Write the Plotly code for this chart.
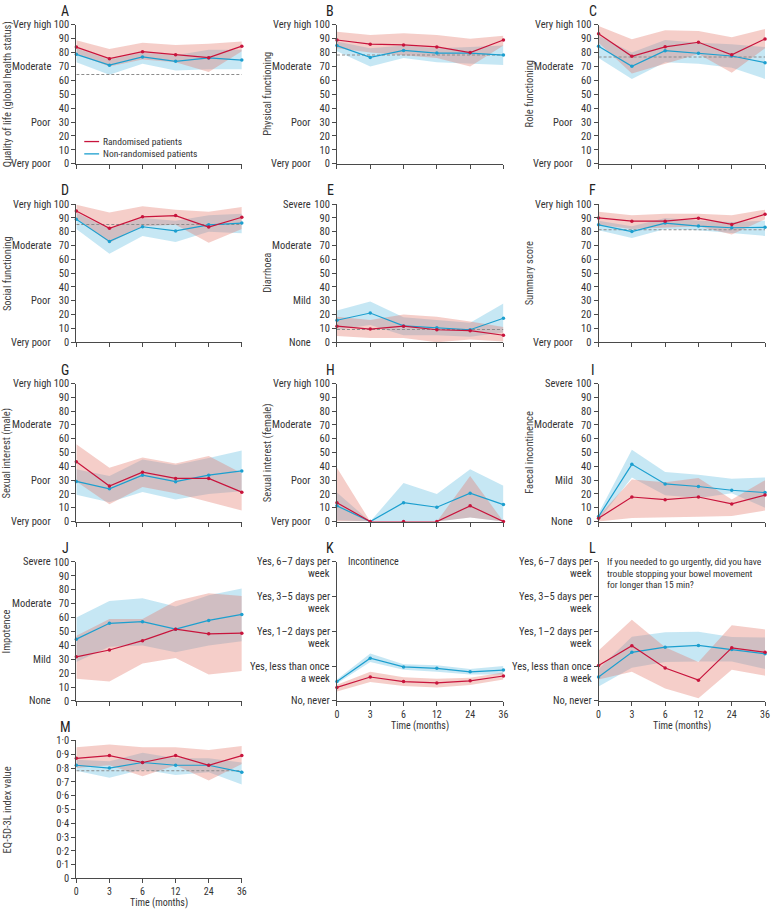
import plotly.graph_objects as go

W, H = 775, 916
months = ["0", "3", "6", "12", "24", "36"]
xi = list(range(len(months)))

# ---------------- data ----------------
A_rand = [83.9, 75.6, 80.6, 78.4, 76.3, 84.6]
A_rand_hi = [88.9, 82.5, 87.0, 85.5, 86.3, 88.0]
A_rand_lo = [79.0, 70.0, 75.0, 73.0, 66.0, 81.0]
A_non = [78.7, 70.9, 76.8, 73.7, 76.1, 74.6]
A_non_hi = [83.0, 75.0, 80.0, 78.0, 82.0, 82.0]
A_non_lo = [73.0, 64.0, 72.0, 67.0, 68.0, 68.0]
A_ref = 64.2

B_rand = [89.0, 86.0, 85.5, 84.0, 80.0, 89.0]
B_rand_hi = [95.0, 92.6, 93.8, 92.6, 90.0, 92.0]
B_rand_lo = [83.0, 80.0, 78.0, 76.0, 70.0, 85.0]
B_non = [85.0, 76.5, 81.5, 79.6, 79.6, 78.2]
B_non_hi = [88.0, 83.0, 85.0, 83.0, 84.0, 85.0]
B_non_lo = [81.0, 70.0, 76.0, 73.0, 72.0, 71.0]
B_ref = 78.2

C_rand = [93.6, 77.3, 84.1, 87.4, 78.4, 89.8]
C_rand_hi = [99.0, 89.5, 96.0, 95.5, 91.0, 97.0]
C_rand_lo = [87.0, 65.0, 72.0, 79.0, 65.5, 83.0]
C_non = [84.6, 70.1, 81.3, 79.4, 77.5, 72.7]
C_non_hi = [92.0, 80.0, 89.0, 87.0, 86.0, 84.0]
C_non_lo = [76.0, 61.0, 73.0, 72.0, 69.0, 61.0]
C_ref = 76.8

D_rand = [95.0, 82.5, 90.8, 91.7, 83.4, 90.5]
D_rand_hi = [99.5, 94.0, 98.5, 96.0, 94.5, 98.0]
D_rand_lo = [90.0, 72.0, 84.0, 85.0, 72.0, 82.0]
D_non = [89.0, 73.0, 83.6, 80.6, 85.0, 86.3]
D_non_hi = [94.0, 82.0, 90.0, 88.0, 92.0, 93.0]
D_non_lo = [82.0, 64.0, 77.0, 72.5, 80.0, 79.0]
D_ref = 85.3

E_rand = [11.6, 9.5, 11.6, 9.0, 8.3, 5.0]
E_rand_hi = [18.5, 16.0, 20.0, 18.5, 15.0, 11.0]
E_rand_lo = [4.5, 3.0, 3.0, 0.0, 2.0, 0.5]
E_non = [15.9, 21.1, 11.8, 10.4, 9.0, 17.3]
E_non_hi = [23.0, 29.5, 18.0, 16.0, 14.0, 28.0]
E_non_lo = [9.0, 12.5, 5.0, 5.0, 4.0, 7.0]
E_ref = 9.2

F_rand = [90.0, 87.7, 87.7, 89.8, 85.3, 92.7]
F_rand_hi = [94.5, 92.0, 93.0, 93.0, 92.0, 96.0]
F_rand_lo = [85.0, 82.0, 83.0, 84.0, 78.0, 89.0]
F_non = [85.0, 80.1, 86.3, 84.1, 82.9, 83.2]
F_non_hi = [88.0, 84.0, 90.0, 88.0, 87.0, 88.0]
F_non_lo = [81.0, 75.5, 82.0, 81.0, 79.0, 77.0]
F_ref = 81.5

G_rand = [43.4, 25.8, 35.8, 31.3, 31.3, 21.3]
G_rand_hi = [56.0, 39.0, 46.5, 42.0, 47.5, 35.0]
G_rand_lo = [29.0, 12.5, 25.0, 20.5, 14.0, 8.0]
G_non = [29.1, 23.7, 33.6, 28.9, 33.6, 36.7]
G_non_hi = [38.0, 33.0, 45.0, 41.0, 46.0, 51.5]
G_non_lo = [19.5, 14.0, 21.5, 16.0, 20.0, 22.0]

H_rand = [13.7, 0.0, 0.0, 0.0, 11.4, 0.0]
H_rand_hi = [39.0, 0.0, 0.0, 0.0, 33.0, 0.0]
H_rand_lo = [0.0, 0.0, 0.0, 0.0, 3.0, 0.0]
H_non = [11.4, 0.0, 13.7, 10.4, 20.6, 12.3]
H_non_hi = [21.0, 0.0, 28.0, 20.0, 38.0, 26.0]
H_non_lo = [1.0, 0.0, 0.0, 0.0, 3.0, 0.0]

I_rand = [2.4, 17.8, 15.9, 17.8, 12.8, 19.2]
I_rand_hi = [4.0, 30.5, 28.5, 31.5, 16.0, 30.0]
I_rand_lo = [0.0, 2.5, 3.0, 3.5, 4.0, 8.0]
I_non = [3.6, 41.5, 27.3, 25.4, 22.7, 21.0]
I_non_hi = [6.0, 52.0, 36.0, 34.0, 31.0, 32.0]
I_non_lo = [1.0, 32.0, 19.0, 17.0, 20.5, 10.0]

J_rand = [31.8, 36.7, 43.4, 51.7, 48.3, 48.8]
J_rand_hi = [47.0, 59.0, 59.0, 72.0, 77.5, 75.5]
J_rand_lo = [16.0, 14.0, 27.0, 31.0, 19.0, 21.5]
J_non = [44.5, 55.9, 57.1, 51.7, 58.0, 62.3]
J_non_hi = [60.0, 72.0, 74.0, 68.0, 76.0, 81.0]
J_non_lo = [28.0, 39.0, 40.0, 35.0, 40.0, 43.0]

K_rand = [0.39, 0.69, 0.56, 0.52, 0.58, 0.72]
K_rand_hi = [0.47, 0.84, 0.68, 0.64, 0.67, 0.82]
K_rand_lo = [0.27, 0.55, 0.43, 0.39, 0.46, 0.62]
K_non = [0.56, 1.23, 0.98, 0.94, 0.84, 0.89]
K_non_hi = [0.62, 1.37, 1.06, 1.03, 0.92, 1.01]
K_non_lo = [0.50, 1.12, 0.90, 0.84, 0.76, 0.76]

L_rand = [1.02, 1.59, 0.95, 0.60, 1.53, 1.40]
L_rand_hi = [1.45, 2.34, 1.55, 1.12, 2.18, 2.06]
L_rand_lo = [0.62, 0.84, 0.36, 0.08, 0.90, 0.73]
L_non = [0.69, 1.40, 1.55, 1.60, 1.48, 1.36]
L_non_hi = [0.92, 1.85, 1.98, 1.99, 1.84, 1.83]
L_non_lo = [0.42, 0.96, 1.12, 1.14, 1.14, 0.92]

M_rand = [0.87, 0.89, 0.84, 0.89, 0.82, 0.89]
M_rand_hi = [0.95, 0.97, 0.95, 0.95, 0.93, 0.96]
M_rand_lo = [0.80, 0.82, 0.74, 0.82, 0.71, 0.83]
M_non = [0.82, 0.80, 0.84, 0.82, 0.82, 0.77]
M_non_hi = [0.86, 0.85, 0.91, 0.87, 0.87, 0.84]
M_non_lo = [0.78, 0.73, 0.79, 0.75, 0.77, 0.68]
M_ref = 0.78

freq_ticks = [
    ["No, never"],
    ["Yes, less than once", "a week"],
    ["Yes, 1\u20132 days per", "week"],
    ["Yes, 3\u20135 days per", "week"],
    ["Yes, 6\u20137 days per", "week"],
]
m_ticks = [0.0, 0.1, 0.2, 0.3, 0.4, 0.5, 0.6, 0.7, 0.8, 0.9, 1.0]
m_ticktext = ["0", "0\u00b71", "0\u00b72", "0\u00b73", "0\u00b74", "0\u00b75",
              "0\u00b76", "0\u00b77", "0\u00b78", "0\u00b79", "1\u00b70"]

QOL = {100: "Very high", 70: "Moderate", 30: "Poor", 0: "Very poor"}
SYM = {100: "Severe", 70: "Moderate", 30: "Mild", 0: "None"}
FQ = {100: "Very high", 0: "Very poor"}

panels = [
    ("A", 0, 0, "Quality of life (global health status)", "pct", QOL, A_rand, A_rand_hi, A_rand_lo, A_non, A_non_hi, A_non_lo, A_ref),
    ("B", 0, 1, "Physical functioning", "pct", QOL, B_rand, B_rand_hi, B_rand_lo, B_non, B_non_hi, B_non_lo, B_ref),
    ("C", 0, 2, "Role functioning", "pct", QOL, C_rand, C_rand_hi, C_rand_lo, C_non, C_non_hi, C_non_lo, C_ref),
    ("D", 1, 0, "Social functioning", "pct", QOL, D_rand, D_rand_hi, D_rand_lo, D_non, D_non_hi, D_non_lo, D_ref),
    ("E", 1, 1, "Diarrhoea", "pct", SYM, E_rand, E_rand_hi, E_rand_lo, E_non, E_non_hi, E_non_lo, E_ref),
    ("F", 1, 2, "Summary score", "pct", FQ, F_rand, F_rand_hi, F_rand_lo, F_non, F_non_hi, F_non_lo, F_ref),
    ("G", 2, 0, "Sexual interest (male)", "pct", QOL, G_rand, G_rand_hi, G_rand_lo, G_non, G_non_hi, G_non_lo, None),
    ("H", 2, 1, "Sexual interest (female)", "pct", QOL, H_rand, H_rand_hi, H_rand_lo, H_non, H_non_hi, H_non_lo, None),
    ("I", 2, 2, "Faecal incontinence", "pct", SYM, I_rand, I_rand_hi, I_rand_lo, I_non, I_non_hi, I_non_lo, None),
    ("J", 3, 0, "Impotence", "pct", SYM, J_rand, J_rand_hi, J_rand_lo, J_non, J_non_hi, J_non_lo, None),
    ("K", 3, 1, "", "freq", None, K_rand, K_rand_hi, K_rand_lo, K_non, K_non_hi, K_non_lo, None),
    ("L", 3, 2, "", "freq", None, L_rand, L_rand_hi, L_rand_lo, L_non, L_non_hi, L_non_lo, None),
    ("M", 4, 0, "EQ-5D-3L index value", "eq", None, M_rand, M_rand_hi, M_rand_lo, M_non, M_non_hi, M_non_lo, M_ref),
]
x_labelled = {"K", "L", "M"}

# ---------------- styling / layout geometry ----------------
RED = "#c8143c"
BLUE = "#1c9fcf"
RED_FILL = "rgba(226,118,104,0.36)"
BLUE_FILL = "rgba(105,193,226,0.38)"
AXC = "#4a4a4a"
TXT = "#333333"
FONT = "Roboto Condensed, Liberation Sans Narrow, Liberation Sans, sans-serif"
FS = 10.5

rows_px = [(19, 160), (201, 341), (383, 523), (564, 705), (745, 885)]
cols_px = [(75, 242), (338, 506), (602, 770)]
letter_x = [64, 331, 596]

fig = go.Figure()
layout = dict(width=W, height=H, margin=dict(l=0, r=0, t=0, b=0),
              paper_bgcolor="white", plot_bgcolor="white", showlegend=False,
              font=dict(family=FONT, size=FS, color=TXT))
annotations = []
shapes = []

for i, (key, r, c, ytitle, kind, qual, rv, rhi, rlo, nv, nhi, nlo, ref) in enumerate(panels, start=1):
    sfx = "" if i == 1 else str(i)
    xa, ya = "x" + sfx, "y" + sfx
    x0, x1 = cols_px[c]
    ytop, ybot = rows_px[r]

    xaxis = dict(domain=[x0 / W, x1 / W], range=[0, 5], anchor=ya,
                 tickvals=xi, ticktext=months if key in x_labelled else [""] * 6,
                 ticks="outside", ticklen=4, tickcolor=AXC, showline=True,
                 linecolor=AXC, linewidth=1, showgrid=False, zeroline=False,
                 tickfont=dict(size=10, color=TXT), fixedrange=True)
    yaxis = dict(domain=[1 - ybot / H, 1 - ytop / H], anchor=xa,
                 ticks="outside", ticklen=4, tickcolor=AXC, showline=True,
                 linecolor=AXC, linewidth=1, showgrid=False, zeroline=False,
                 tickfont=dict(size=FS, color=TXT), fixedrange=True)
    if kind == "pct":
        yaxis.update(range=[0, 100], tickvals=list(range(0, 101, 10)))
    elif kind == "eq":
        yaxis.update(range=[0, 1], tickvals=m_ticks, ticktext=m_ticktext)
    else:
        yaxis.update(range=[0, 4], tickvals=list(range(5)), ticktext=[""] * 5)

    layout["xaxis" + sfx] = xaxis
    layout["yaxis" + sfx] = yaxis

    # CI bands
    for lo, hi, fc in ((nlo, nhi, BLUE_FILL), (rlo, rhi, RED_FILL)):
        fig.add_trace(go.Scatter(x=xi + xi[::-1], y=hi + lo[::-1], fill="toself",
                                 fillcolor=fc, line=dict(width=0), mode="lines",
                                 hoverinfo="skip", xaxis=xa, yaxis=ya))
    # reference line
    if ref is not None:
        fig.add_trace(go.Scatter(x=xi, y=[ref] * len(xi), mode="lines",
                                 line=dict(color="#8c8c8c", width=1.1, dash="3px,2px"),
                                 hoverinfo="skip", xaxis=xa, yaxis=ya))
    # mean lines
    for vals, col, nm in ((nv, BLUE, "Non-randomised patients"), (rv, RED, "Randomised patients")):
        fig.add_trace(go.Scatter(x=xi, y=vals, mode="lines+markers", name=nm,
                                 line=dict(color=col, width=1.2),
                                 marker=dict(color=col, size=3.5),
                                 cliponaxis=False, xaxis=xa, yaxis=ya))

    # panel letter
    annotations.append(dict(text=key, xref="paper", yref="paper",
                            x=letter_x[c] / W, y=1 - (ytop - 14) / H,
                            xanchor="center", yanchor="middle", showarrow=False,
                            font=dict(size=14, color="#222", family=FONT)))
    # y title
    if ytitle:
        annotations.append(dict(text=ytitle, xref="paper", yref="paper",
                                x=(x0 - 70) / W, y=1 - ((ytop + ybot) / 2) / H,
                                textangle=-90, xanchor="center", yanchor="middle",
                                showarrow=False, font=dict(size=FS, color="#444")))
    # qualitative labels
    if qual:
        for v, t in qual.items():
            annotations.append(dict(text=t, xref="paper", yref=ya, x=(x0 - 24) / W, y=v,
                                    xanchor="right", yanchor="middle", showarrow=False,
                                    font=dict(size=FS, color=TXT)))
    if kind == "freq":
        for v, lines in enumerate(freq_ticks):
            for j, ln in enumerate(lines):
                annotations.append(dict(text=ln, xref="paper", yref=ya, x=(x0 - 5) / W, y=v,
                                        yshift=-12 * j, xanchor="right", yanchor="middle",
                                        showarrow=False, font=dict(size=FS, color=TXT)))
    if key in x_labelled:
        annotations.append(dict(text="Time (months)", xref="paper", yref="paper",
                                x=((x0 + x1) / 2) / W, y=1 - min(ybot + 25, 910) / H,
                                xanchor="center", yanchor="middle", showarrow=False,
                                font=dict(size=10, color=TXT)))

# subtitles for K and L
annotations.append(dict(text="Incontinence", xref="paper", yref="paper", x=347 / W,
                        y=1 - 564 / H, xanchor="left", yanchor="middle", showarrow=False,
                        font=dict(size=10, color=TXT)))
for j, ln in enumerate(["If you needed to go urgently, did you have",
                        "trouble stopping your bowel movement",
                        "for longer than 15 min?"]):
    annotations.append(dict(text=ln, xref="paper", yref="paper", x=609 / W,
                            y=1 - (564 + 11.5 * j) / H, xanchor="left", yanchor="middle",
                            showarrow=False, font=dict(size=9.5, color=TXT)))

# legend (panel A)
for j, (nm, col) in enumerate([("Randomised patients", RED), ("Non-randomised patients", BLUE)]):
    yy = 1 - (137.5 + 12.5 * j) / H
    shapes.append(dict(type="line", xref="paper", yref="paper", x0=83 / W, x1=98 / W,
                       y0=yy, y1=yy, line=dict(color=col, width=1.3)))
    annotations.append(dict(text=nm, xref="paper", yref="paper", x=100 / W, y=yy,
                            xanchor="left", yanchor="middle", showarrow=False,
                            font=dict(size=9.5, color=TXT)))

layout["annotations"] = annotations
layout["shapes"] = shapes
fig.update_layout(**layout)
fig.write_html("out.html", config={"displayModeBar": False},
               post_script="document.documentElement.style.margin='0';"
                           "document.body.style.margin='0';"
                           "document.body.style.overflow='hidden';")
